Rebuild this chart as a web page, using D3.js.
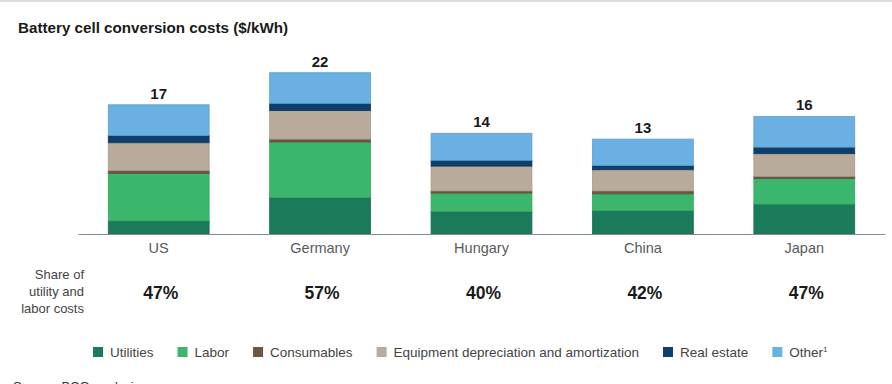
<!DOCTYPE html>
<meta charset="utf-8">
<script src="https://d3js.org/d3.v7.min.js"></script>
<style>
  body { margin: 0; background: #fff; }
  svg { font-family: "Liberation Sans", Arial, sans-serif; }
</style>
<body>
<div id="chart"></div>
<script>
  // data ($/kWh)
  var countries = ["US", "Germany", "Hungary", "China", "Japan"];
  var utilities = [1.8, 5.0, 3.1, 3.2, 4.1];
  var labor = [6.5, 7.6, 2.5, 2.3, 3.5];
  var consumables = [0.4, 0.4, 0.3, 0.4, 0.3];
  var equipment = [3.8, 3.9, 3.4, 2.9, 3.1];
  var realEstate = [1.0, 1.0, 0.8, 0.6, 0.9];
  var other = [4.2, 4.2, 3.7, 3.6, 4.2];
  var totalLabels = ["17", "22", "14", "13", "16"];
  var shareLabels = ["47%", "57%", "40%", "42%", "47%"];

  var seriesNames = ["Utilities", "Labor", "Consumables", "Equipment depreciation and amortization", "Real estate", "Other"];
  var seriesColors = ["#1b7a59", "#3bb76d", "#6e5646", "#b8ab9b", "#0c3f6d", "#6ab0e2"];
  var seriesValues = [utilities, labor, consumables, equipment, realEstate, other];

  var W = 892, H = 384;
  var svg = d3.select("#chart").append("svg")
    .attr("width", W).attr("height", H);

  // top rule
  svg.append("line")
    .attr("x1", 0).attr("x2", W).attr("y1", 1).attr("y2", 1)
    .attr("stroke", "#dcdcdc").attr("stroke-width", 2);

  svg.append("text")
    .attr("x", 18).attr("y", 33)
    .attr("font-size", 15.2).attr("font-weight", "bold").attr("fill", "#1a1a1a")
    .text("Battery cell conversion costs ($/kWh)");

  var rows = countries.map(function(c, i) {
    var r = {country: c};
    seriesNames.forEach(function(s, j) { r[s] = seriesValues[j][i]; });
    return r;
  });
  var stack = d3.stack().keys(seriesNames)(rows);

  var x = d3.scaleBand().domain(countries).range([78, 885])
    .paddingInner(0.375).paddingOuter(0.1875);
  var y = d3.scaleLinear().domain([0, 25]).range([234, 234 - 7.3 * 25]);
  var color = d3.scaleOrdinal().domain(seriesNames).range(seriesColors);

  svg.append("g").selectAll("g")
    .data(stack).enter().append("g")
      .attr("fill", function(d) { return color(d.key); })
      .attr("stroke", function(d) { return d3.color(color(d.key)).darker(0.25); })
      .attr("stroke-width", 0.8)
    .selectAll("rect")
    .data(function(d) { return d; }).enter().append("rect")
      .attr("x", function(d) { return x(d.data.country); })
      .attr("width", x.bandwidth())
      .attr("y", function(d) { return y(d[1]); })
      .attr("height", function(d) { return y(d[0]) - y(d[1]); });

  // baseline axis
  var axis = svg.append("g").attr("transform", "translate(0,234)")
    .call(d3.axisBottom(x).tickSize(0).tickPadding(9));
  axis.select(".domain").attr("stroke", "#8a8a8a").attr("stroke-width", 1.2);
  axis.selectAll("text").attr("font-size", 14.5).attr("fill", "#5a5a5a")
    .attr("font-family", "Liberation Sans, Arial, sans-serif");

  // totals
  var last = stack[stack.length - 1];
  svg.append("g").selectAll("text")
    .data(last).enter().append("text")
      .attr("x", function(d) { return x(d.data.country) + x.bandwidth() / 2; })
      .attr("y", function(d) { return y(d[1]) - 6; })
      .attr("text-anchor", "middle").attr("font-size", 15).attr("font-weight", "bold")
      .attr("fill", "#1a1a1a")
      .text(function(d, i) { return totalLabels[i]; });

  // share row
  var share = svg.append("text").attr("text-anchor", "end").attr("font-size", 13).attr("fill", "#444");
  ["Share of", "utility and", "labor costs"].forEach(function(t, i) {
    share.append("tspan").attr("x", 84).attr("y", 279 + i * 17).text(t);
  });
  svg.append("g").selectAll("text")
    .data(countries).enter().append("text")
      .attr("x", function(d) { return x(d) + x.bandwidth() / 2 + 2; })
      .attr("y", 299)
      .attr("text-anchor", "middle").attr("font-size", 17.5).attr("font-weight", "bold")
      .attr("fill", "#1a1a1a")
      .text(function(d, i) { return shareLabels[i]; });

  // legend
  var legend = svg.append("g").attr("transform", "translate(0,352)");
  var lx = 93;
  seriesNames.forEach(function(s, i) {
    var g = legend.append("g").attr("transform", "translate(" + lx + ",0)");
    g.append("rect").attr("x", 0).attr("y", -5).attr("width", 10).attr("height", 10)
      .attr("fill", color(s));
    var t = g.append("text").attr("x", 17).attr("y", 4.5)
      .attr("font-size", 13.5).attr("fill", "#444").text(s);
    if (s === "Other") t.append("tspan").attr("font-size", 8).attr("dy", -5).text("1");
    lx += 17 + t.node().getComputedTextLength() + 24;
  });

  svg.append("text").attr("x", 13).attr("y", 391)
    .attr("font-size", 13).attr("fill", "#333").text("Source: BCG analysis");
</script>
</body>
